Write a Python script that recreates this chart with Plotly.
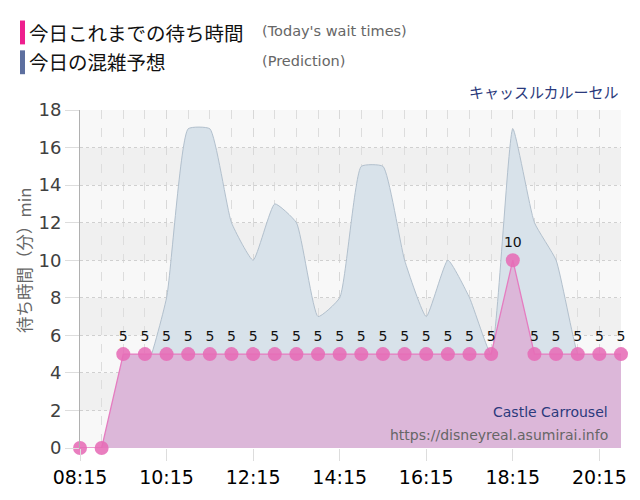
import plotly.graph_objects as go

# ---- data ----
times = ["08:15", "08:45", "09:15", "09:45", "10:15", "10:45", "11:15", "11:45",
         "12:15", "12:45", "13:15", "13:45", "14:15", "14:45", "15:15", "15:45",
         "16:15", "16:45", "17:15", "17:45", "18:15", "18:45", "19:15", "19:45",
         "20:15", "20:45"]
actual_wait = [0, 0, 5, 5, 5, 5, 5, 5, 5, 5, 5, 5, 5, 5, 5, 5, 5, 5, 5, 5, 10, 5, 5, 5, 5, 5]
predicted_wait = [0, 0, 3, 4, 8, 17, 17, 12, 10, 13, 12, 7, 8, 15, 15, 10, 7, 10, 8, 5,
                  17, 12, 10, 5, 3, 3]
y_ticks = [0, 2, 4, 6, 8, 10, 12, 14, 16, 18]

DAY = "2024-01-01 "
x = [DAY + t for t in times]
labels = [str(v) if v > 0 else "" for v in actual_wait]

# plot area in pixels
L, R, T, B = 80, 621, 110, 450
W, H = 640, 500


def px(xp):
    return (xp - L) / (R - L)


def py(yp):
    return (B - yp) / (B - T)


fig = go.Figure()

fig.add_trace(go.Scatter(
    x=x, y=predicted_wait, mode="lines", fill="tozeroy",
    line=dict(color="#b2c0cd", width=1, shape="spline", smoothing=0.45),
    fillcolor="#d8e2ea", hoverinfo="skip", cliponaxis=False,
))

fig.add_trace(go.Scatter(
    x=x, y=actual_wait, mode="lines+markers+text", fill="tozeroy",
    line=dict(color="#e57cc0", width=1.3),
    fillcolor="#dcb7d9",
    marker=dict(size=14, color="rgba(230,108,182,0.88)", line=dict(width=0)),
    text=labels, textposition="top center",
    textfont=dict(family="DejaVu Sans", size=14, color="#111"),
    cliponaxis=False, hoverinfo="skip",
))

# alternating horizontal bands
shapes = []
for lo in y_ticks[:-1]:
    dark = (lo // 2) % 2 == 1
    shapes.append(dict(type="rect", xref="paper", yref="y", x0=0, x1=1, y0=lo, y1=lo + 2,
                       fillcolor="#f0f0f0" if dark else "#f8f8f8", line=dict(width=0),
                       layer="below"))

# legend colour bars
shapes.append(dict(type="rect", xref="paper", yref="paper", x0=px(20), x1=px(25),
                   y0=py(44), y1=py(20), fillcolor="#ee1f8e", line=dict(width=0)))
shapes.append(dict(type="rect", xref="paper", yref="paper", x0=px(20), x1=px(25),
                   y0=py(74), y1=py(50), fillcolor="#5d6f9f", line=dict(width=0)))

CJK = "Noto Sans CJK JP"
annotations = [
    dict(text="今日これまでの待ち時間", x=px(27), y=py(32), xanchor="left", yanchor="middle",
         font=dict(family=CJK, size=19.5, color="#111")),
    dict(text="(Today's wait times)", x=px(260), y=py(31), xanchor="left", yanchor="middle",
         font=dict(family="DejaVu Sans", size=14.5, color="#666")),
    dict(text="今日の混雑予想", x=px(27), y=py(61), xanchor="left", yanchor="middle",
         font=dict(family=CJK, size=19.5, color="#111")),
    dict(text="(Prediction)", x=px(260), y=py(61), xanchor="left", yanchor="middle",
         font=dict(family="DejaVu Sans", size=14.5, color="#666")),
    dict(text="キャッスルカルーセル", x=px(621), y=py(91), xanchor="right", yanchor="middle",
         font=dict(family=CJK, size=15, color="#2b3a7c")),
    dict(text="待ち時間（分）min", x=px(24), y=py(262), xanchor="center", yanchor="middle",
         textangle=-90, font=dict(family=CJK, size=16.5, color="#666")),
    dict(text="Castle Carrousel", x=px(610), y=py(414), xanchor="right", yanchor="middle",
         font=dict(family="DejaVu Sans", size=14, color="#2b3a7c")),
    dict(text="https://disneyreal.asumirai.info", x=px(610), y=py(437), xanchor="right",
         yanchor="middle", font=dict(family="DejaVu Sans", size=14, color="#666")),
]
for a in annotations:
    a.update(xref="paper", yref="paper", showarrow=False)

fig.update_layout(
    width=W, height=H,
    margin=dict(l=L, r=W - R, t=T, b=H - B, pad=0),
    paper_bgcolor="white", plot_bgcolor="#f8f8f8",
    showlegend=False, shapes=shapes, annotations=annotations,
    xaxis=dict(
        type="date", range=[DAY + "08:15", DAY + "20:45"],
        tick0=DAY + "08:15", dtick=2 * 3600 * 1000, tickformat="%H:%M",
        tickfont=dict(family="DejaVu Sans", size=19, color="#000"),
        showgrid=True, gridcolor="#d8d8d8", griddash="dash", gridwidth=1,
        minor=dict(dtick=30 * 60 * 1000, tick0=DAY + "08:15", showgrid=True,
                   gridcolor="#dddddd", griddash="dash", gridwidth=1),
        ticks="outside", ticklen=12, tickcolor="#dddddd",
        showline=False, zeroline=False, fixedrange=True,
    ),
    yaxis=dict(
        range=[0, 18], tickvals=y_ticks,
        tickfont=dict(family="DejaVu Sans", size=18, color="#404040"),
        showgrid=True, gridcolor="#d0d0d0", griddash="dot", gridwidth=1,
        ticks="outside", ticklen=14, tickcolor="#dddddd",
        showline=True, linecolor="#b0b0b0", linewidth=1,
        zeroline=False, fixedrange=True,
    ),
)

fig.write_html("out.html")
